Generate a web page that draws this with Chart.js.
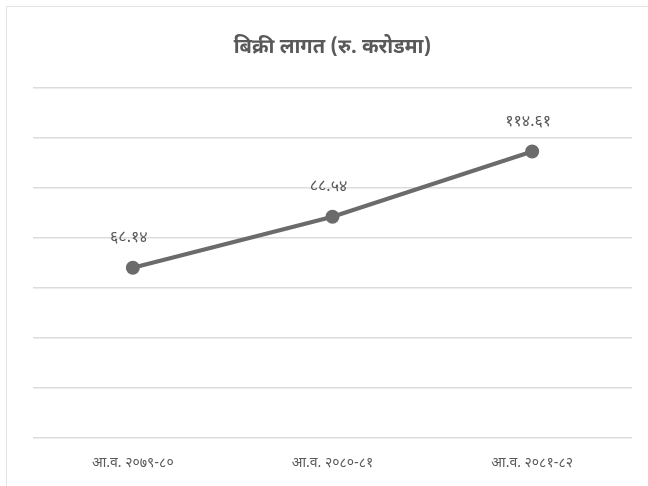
<!DOCTYPE html>
<html>
<head>
<meta charset="utf-8">
<script src="https://cdn.jsdelivr.net/npm/chart.js@4"></script>
<style>
  html, body { margin: 0; padding: 0; background: #fff; }
  #frame { position: absolute; left: 6px; top: 6px; width: 650px; height: 500px; border: 1px solid #e4e4e4; }
  #wrap { position: absolute; left: 0; top: 0; width: 648px; height: 486px; }
</style>
</head>
<body>
<div id="frame"></div>
<div id="wrap"><canvas id="myChart"></canvas></div>
<script>
var chartTitle = 'बिक्री लागत (रु. करोडमा)';
var years = ['आ.व. २०७९-८०', 'आ.व. २०८०-८१', 'आ.व. २०८१-८२'];
var costs = [68.14, 88.54, 114.61];

var font = '"Noto Sans Devanagari", "Noto Sans", "Lohit Devanagari", sans-serif';
var grey = '#6b6b6b';

// nepali digits for the value labels
function toNepali(n) {
    var digits = '०१२३४५६७८९';
    return n.toFixed(2).replace(/[0-9]/g, function(d){ return digits[+d]; });
}

var valueLabels = {
    id: 'valueLabels',
    afterDatasetsDraw: function(chart) {
        var ctx = chart.ctx;
        var meta = chart.getDatasetMeta(0);
        ctx.save();
        ctx.font = '16px ' + font;
        ctx.fillStyle = '#595959';
        ctx.textAlign = 'center';
        ctx.textBaseline = 'middle';
        meta.data.forEach(function(pt, i){
            ctx.fillText(toNepali(costs[i]), pt.x - 4, pt.y - 29);
        });
        ctx.restore();
    }
};

var ctx = document.getElementById('myChart').getContext('2d');
var myChart = new Chart(ctx, {
    type: 'line',
    data: {
        labels: years,
        datasets: [{
            data: costs,
            borderColor: grey,
            backgroundColor: grey,
            borderWidth: 4,
            pointRadius: 5,
            pointBackgroundColor: grey,
            pointBorderColor: grey,
            tension: 0
        }]
    },
    options: {
        responsive: true,
        maintainAspectRatio: false,
        animation: false,
        layout: { padding: { left: 33, right: 16, top: 37, bottom: 3 } },
        plugins: {
            legend: { display: false },
            tooltip: { enabled: false },
            title: {
                display: true,
                text: chartTitle,
                color: '#595959',
                font: { family: font, size: 20, weight: 'bold' },
                padding: { top: 0, bottom: 27 }
            }
        },
        scales: {
            x: {
                offset: true,
                grid: { display: false },
                border: { display: false },
                ticks: { color: '#595959', font: { family: font, size: 14 }, padding: 10 }
            },
            y: {
                min: 0,
                max: 140,
                ticks: { display: false, stepSize: 20 },
                grid: { color: '#dcdcdc', lineWidth: 1.5, drawTicks: false },
                border: { display: false }
            }
        }
    },
    plugins: [valueLabels]
});
</script>
</body>
</html>
